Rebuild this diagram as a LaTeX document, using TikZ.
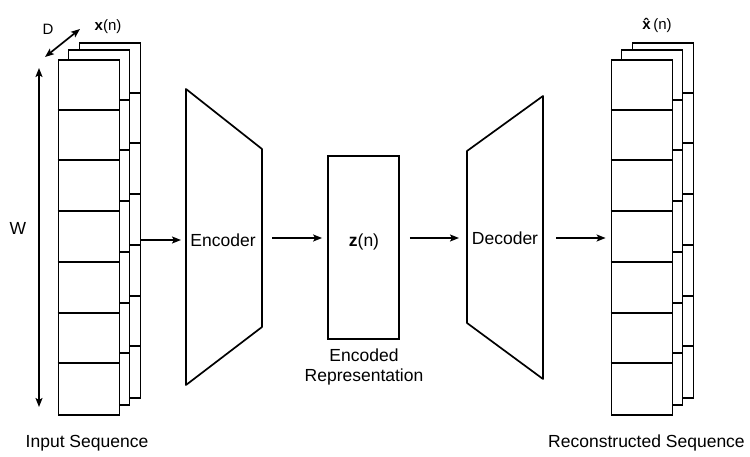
\documentclass[tikz,border=0pt]{standalone}
\usepackage{fontspec}
\setmainfont{Liberation Sans}
\usetikzlibrary{arrows.meta,calc}
\begin{document}
\begin{tikzpicture}[x=1pt,y=-1pt,line width=1.7pt,
  layer/.style={draw,fill=white,inner sep=0pt,minimum width=61pt,minimum height=355pt},
  zbox/.style={draw,fill=white,inner sep=0pt,minimum width=71pt,minimum height=183pt},
  arr/.style={-{Stealth[length=9pt,width=7pt,inset=2pt]}},
  dbl/.style={{Stealth[length=9pt,width=7pt,inset=2pt]}-{Stealth[length=9pt,width=7pt,inset=2pt]}},
  lbl/.style={font=\fontsize{17.5}{21}\selectfont,inner sep=0pt,anchor=base},
  sml/.style={font=\fontsize{15}{18}\selectfont,inner sep=0pt,anchor=base}]
\useasboundingbox (0,0) rectangle (750,457);

% ---------- input stack ----------
\node[layer] (in3) at (110,220.5) {};
\foreach \k in {1,...,6} \draw (in3.north west) ++(0,{round(\k*355/7)}) -- ++(61,0);
\node[layer] (in2) at (99,227.5) {};
\foreach \k in {1,...,6} \draw (in2.north west) ++(0,{round(\k*355/7)}) -- ++(61,0);
\node[layer] (in1) at (89,237.5) {};
\foreach \k in {1,...,6} \draw (in1.north west) ++(0,{round(\k*355/7)}) -- ++(61,0);

% W and D arrows
\coordinate (wt) at (39,68);
\coordinate (wb) at (39,407);
\draw[dbl] (wt) -- (wb);
\node[lbl] (wlab) at (18,235) {W};
\coordinate (dl) at (45,57);
\coordinate (du) at (80,29);
\draw[dbl] (dl) -- (du);
\node[sml] (dlab) at (48,35) {D};
\node[sml] (xlab) at (108,31) {\textbf{x}(n)};
\node[lbl] (inlab) at (87,447) {Input Sequence};

% ---------- encoder ----------
\coordinate (encTL) at (186,89);
\coordinate (encTR) at (262,149);
\coordinate (encBR) at (262,327);
\coordinate (encBL) at (186,385);
\draw[line join=round] (encTL) -- (encTR) -- (encBR) -- (encBL) -- cycle;
\node[lbl] (enc) at (223,247) {Encoder};
\coordinate (encMid) at (262,238);

% ---------- latent ----------
\node[zbox] (z) at (363.5,247.5) {};
\node[lbl] (zlab) at (364,247) {\textbf{z}(n)};
\node[lbl] (zl1) at (364,361) {Encoded};
\node[lbl] (zl2) at (364,381) {Representation};

% ---------- decoder ----------
\coordinate (decTL) at (467,151);
\coordinate (decTR) at (543,96);
\coordinate (decBR) at (543,379);
\coordinate (decBL) at (467,323);
\draw[line join=round] (decTL) -- (decTR) -- (decBR) -- (decBL) -- cycle;
\node[lbl] (dec) at (505,245) {Decoder};
\coordinate (decMid) at (467,238);
\coordinate (decOut) at (543,238);

% ---------- output stack ----------
\node[layer] (out3) at (663,220.5) {};
\foreach \k in {1,...,6} \draw (out3.north west) ++(0,{round(\k*355/7)}) -- ++(61,0);
\node[layer] (out2) at (652,227.5) {};
\foreach \k in {1,...,6} \draw (out2.north west) ++(0,{round(\k*355/7)}) -- ++(61,0);
\node[layer] (out1) at (642,237.5) {};
\foreach \k in {1,...,6} \draw (out1.north west) ++(0,{round(\k*355/7)}) -- ++(61,0);
\node[sml] (xhlab) at (657,30) {\textbf{\^{x}}(n)};
\node[lbl] (outlab) at (646.5,447) {Reconstructed Sequence};

% ---------- connectors ----------
\coordinate (encIn) at (186,240);
\draw[arr,shorten >=5pt] (in3.east |- encIn) -- (encIn);
\draw[arr,shorten <=10pt,shorten >=5pt] (encMid) -- (encMid -| z.west);
\draw[arr,shorten <=10pt,shorten >=8pt] (z.east |- decMid) -- (decMid);
\draw[arr,shorten <=13pt,shorten >=5pt] (decOut) -- (decOut -| out1.west);
\end{tikzpicture}
\end{document}
